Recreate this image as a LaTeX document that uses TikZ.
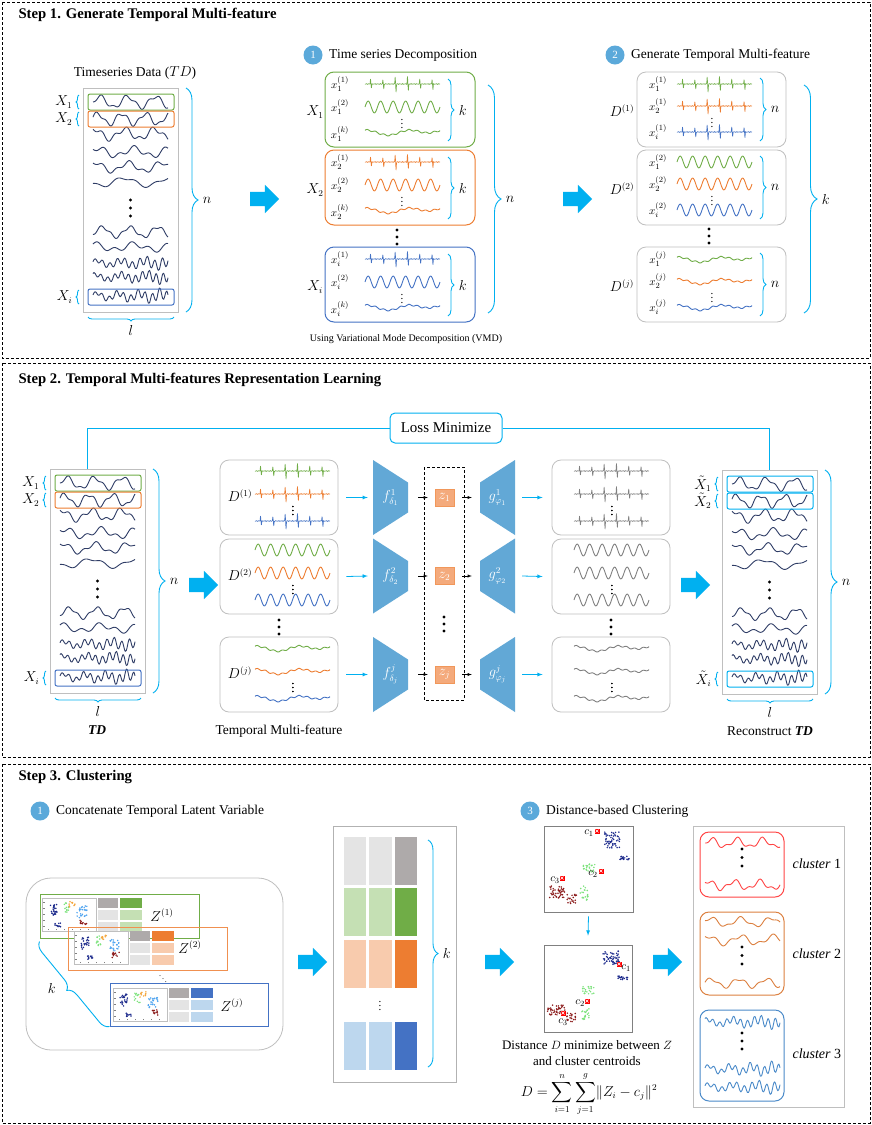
\documentclass[tikz,border=0pt]{standalone}
\usepackage{amsmath}
\usepackage{fontspec}
\setmainfont{Liberation Serif}
\usetikzlibrary{positioning,shapes.arrows,decorations.pathreplacing}

\definecolor{skyc}{HTML}{00B0F0}
\definecolor{grn}{HTML}{70AD47}
\definecolor{org}{HTML}{ED7D31}
\definecolor{blu}{HTML}{4472C4}
\definecolor{lgrn}{HTML}{C5E0B4}
\definecolor{lorg}{HTML}{F8CBAD}
\definecolor{lblu}{HTML}{BDD7EE}
\definecolor{gray1}{HTML}{AEAAAA}
\definecolor{gray2}{HTML}{E4E4E4}
\definecolor{navy}{HTML}{2F3D66}
\definecolor{boxg}{HTML}{BFBFBF}
\definecolor{codec}{HTML}{62A8D6}
\definecolor{zfill}{HTML}{F4AA7C}
\definecolor{badgec}{HTML}{5BA9DA}
\definecolor{dnavy}{HTML}{1C2A8C}
\definecolor{dred}{HTML}{8B1A1A}
\definecolor{lgreen}{HTML}{7BE37B}
\definecolor{sblue}{HTML}{4DA3F0}
\definecolor{sorg}{HTML}{F5A63C}
\definecolor{cred}{HTML}{FF4545}
\definecolor{corg}{HTML}{DC8040}
\definecolor{cblu}{HTML}{4A8AC9}

% one signal of 75pt, #3 is y in terms of \x
\newcommand{\sig}[3][]{\draw[wv,shift={(#2)},#1] plot (\x,{#3});}
\newcommand{\bigdots}[3]{\foreach \dd in {0,1,2} \fill (#1,#2+\dd*#3) circle (1.7);}
\newcommand{\blob}[6]{\foreach \nn in {1,...,#6} \fill[#1] ({#2+rand*#4},{#3+rand*#5}) circle (0.85);}
\newcommand{\cmark}[2]{\fill[red] (#1-2.5,#2-2.5) rectangle (#1+2.5,#2+2.5);
  \draw[white,line width=0.4pt] (#1-1.5,#2-1.5) -- (#1+1.5,#2+1.5) (#1-1.5,#2+1.5) -- (#1+1.5,#2-1.5);}

\def\imfA{0.5*sin(\x*170)*sin(\x*41)+6*(abs(mod(\x,12.3)-6)<0.9)*sin((mod(\x,12.3)-6)*200)*(1+0.35*sin(\x*37))}
\def\imfB{-6*sin(\x*28.8)}
\def\imfC{-2*sin(\x*9+60)-0.8*sin(\x*43)+1.2*sin(\x*4)}
\def\tdrows{14/-5.5*sin(\x*13)+2*sin(\x*31),31/-5.5*sin(\x*15+20)-2*sin(\x*34),46/-5*sin(\x*12+70)+2.5*sin(\x*29),64/-4*sin(\x*10+40)+2.5*sin(\x*24),79/-4.5*sin(\x*11+60)+2*sin(\x*27),94/4*sin(\x*8+20)-1.5*sin(\x*19),144/-5*sin(\x*13-30)+1.5*sin(\x*35),159/-3*sin(\x*9+80)-2.5*sin(\x*21),175/-(1+\x*0.025)*2*sin(\x*48)-2.5*sin(\x*15+30),189/-(1+\x*0.025)*2*sin(\x*52+40)-2.5*sin(\x*14+60),208/-(1+\x*0.03)*1.8*sin(\x*50)-3*sin(\x*17+20)}

% box of raw series: name, origin, 3 frame colours, label letter
\newcommand{\tdblock}[6]{%
\begin{scope}[shift={(#2)}]
\node[draw=boxg,line width=0.8pt,anchor=north west,minimum width=95pt,minimum height=224pt,inner sep=0pt] (#1) at (0,0) {};
\foreach \yy/\ex in \tdrows {\sig[navy]{10,\yy}{\ex}}
\bigdots{47.5}{112}{8}
\node[frm,draw=#3] (#1-1) at (48,14) {};
\node[frm,draw=#4] (#1-2) at (48,31) {};
\node[frm,draw=#5] (#1-i) at (48,209) {};
\foreach \yy/\lb in {14/1,31/2,209/i}
  \draw[brc=3] (-4,\yy+7) -- (-4,\yy-7) node[midway,left=3pt]{$#6_\lb$};
\draw[brc=12] (103,0) -- (103,224) node[midway,right=13pt]{$n$};
\draw[brc=4] (91,229) -- (5,229) node[midway,below=5pt]{$l$};
\end{scope}}

\newcommand{\coder}[4]{%
\fill[codec,shift={(#2)},xscale=#4] (-17.5,-37.5) -- (17.5,-15) -- (17.5,15) -- (-17.5,37.5) -- cycle;
\node[minimum width=35pt,minimum height=75pt,inner sep=0pt,text=white] (#1) at (#2) {#3};}

\newcommand{\zcard}[3]{%
\begin{scope}[shift={(#1)}]
\draw[boxg,fill=white,line width=0.4pt] (0,0) rectangle (54,33);
\foreach \tk in {4,10,...,28} \draw[gray,line width=0.2pt] (1,\tk) -- (2.5,\tk);
\foreach \tk in {6,14,...,46} \draw[gray,line width=0.2pt] (\tk,32) -- (\tk,30.5);
\blob{dnavy}{11}{12}{4}{6}{26}\blob{dnavy}{16}{27}{3}{2}{10}
\blob{lgreen}{24}{10}{3}{5}{12}\blob{sblue}{40}{14}{5}{6}{24}
\blob{dred}{42}{24}{4}{3}{12}\blob{sorg}{30}{6}{3}{3}{10}
\fill[gray1] (56,0) rectangle (76,10); \fill[#2] (78,0) rectangle (100,10);
\fill[gray2] (56,12) rectangle (76,22); \fill[#3] (78,12) rectangle (100,22);
\fill[gray2] (56,24) rectangle (76,34); \fill[#3] (78,24) rectangle (100,34);
\end{scope}}

\begin{document}
\begin{tikzpicture}[x=1pt,y=-1pt,font=\fontsize{13.5}{15}\selectfont,
  wv/.style={line width=0.9pt,domain=0:75,samples=70,smooth,line join=round},
  spk/.style={samples=300,sharp plot,line width=0.6pt},
  brc/.style={draw=skyc,line width=0.9pt,decorate,decoration={brace,amplitude=#1}},brc/.default=6,
  frm/.style={draw,rounded corners=2pt,line width=1pt,minimum width=86pt,minimum height=16pt,inner sep=0pt},
  rbox/.style={draw,rounded corners=9pt,line width=1pt,inner sep=0pt},
  gbox/.style={rbox,draw=boxg,line width=0.8pt},
  bigarr/.style={single arrow,fill=skyc,minimum height=29pt,minimum width=28pt,single arrow head extend=7pt,inner sep=7pt},
  badge/.style={circle,fill=badgec,text=white,minimum size=19pt,inner sep=0pt,font=\fontsize{11}{12}\selectfont},
  cyarr/.style={-latex,draw=skyc,line width=0.8pt},
  lbl/.style={font=\fontsize{11}{12}\selectfont,inner sep=1pt},
  sect/.style={draw,dash pattern=on 3pt off 2pt,line width=0.7pt},
  ttl/.style={anchor=west,font=\bfseries\fontsize{14.7}{17}\selectfont}]
\fill[white] (0,0) rectangle (872,1125);
\useasboundingbox (0,0) rectangle (872,1125);
\pgfmathsetseed{11}

\draw[sect] (2,2) rectangle (870,358);
\draw[sect] (2,363) rectangle (870,757);
\draw[sect] (2,764) rectangle (870,1123);
\node[ttl] at (15,15) {Step 1. Generate Temporal Multi-feature};
\node[ttl] at (15,380) {Step 2. Temporal Multi-features Representation Learning};
\node[ttl] at (15,777) {Step 3. Clustering};

% ---- step 1
\node at (135,73) {Timeseries Data ($TD$)};
\tdblock{td1}{83,88}{grn}{org}{blu}{X}
\node[bigarr] (ar1) at (261,199) {};

\node[badge] (b1) at (313,55) {1};
\node[right=3pt of b1] {Time series Decomposition};
\foreach \nm/\yy/\cc/\sx in {x1/72/grn/1,x2/150/org/2,xi/247/blu/i}{
  \node[rbox,draw=\cc,minimum width=150pt,minimum height=75pt] (\nm) at (400,\yy+37.5) {};
  \node at (315,\yy+40) {$X_\sx$};
  \node[lbl] at (340,\yy+12) {$x_\sx^{(1)}$};
  \node[lbl] at (340,\yy+35) {$x_\sx^{(2)}$};
  \node[lbl] at (340,\yy+62) {$x_\sx^{(k)}$};
  \node[lbl] at (402,\yy+49) {$\vdots$};
  \sig[\cc,spk]{365,\yy+12}{\imfA}
  \sig[\cc]{365,\yy+35}{\imfB}
  \sig[\cc]{365,\yy+60}{\imfC}
  \draw[brc=6] (448,\yy+7) -- (448,\yy+69) node[midway,right=7pt]{$k$};
}
\bigdots{397}{230}{7}
\draw[brc=13] (488,85) -- (488,313) node[midway,right=14pt]{$n$};
\node[font=\fontsize{10}{12}\selectfont] at (406,339) {Using Variational Mode Decomposition (VMD)};
\node[bigarr] (ar2) at (574,199) {};

\node[badge] (b2) at (615,55) {2};
\node[right=3pt of b2] {Generate Temporal Multi-feature};
\foreach \nm/\yy/\sx/\ex/\st in {d1/72/1/\imfA/spk,d2/150/2/\imfB/wv,dj/247/j/\imfC/wv}{
  \node[gbox,minimum width=149pt,minimum height=75pt] (\nm) at (711.5,\yy+37.5) {};
  \node at (622,\yy+39) {$D^{(\sx)}$};
  \foreach \rr/\rc/\rs in {12/grn/1,34/org/2,60/blu/i}{
    \node[lbl] at (658,\yy+\rr) {$x_\rs^{(\sx)}$};
    \sig[\rc,\st]{677,\yy+\rr}{\ex}
  }
  \node[lbl] at (712,\yy+48) {$\vdots$};
  \draw[brc=6] (760,\yy+6) -- (760,\yy+69) node[midway,right=7pt]{$n$};
}
\bigdots{709}{229}{7}
\draw[brc=13] (804,85) -- (804,313) node[midway,right=14pt]{$k$};

% ---- step 2
\tdblock{td2}{50,469}{grn}{org}{blu}{X}
\node[font=\fontsize{13.5}{15}\selectfont\bfseries\itshape] at (97,730) {TD};
\node[bigarr] (ar3) at (200,585) {};
\foreach \nm/\yy/\sx/\ex/\st in {m1/460/1/\imfA/spk,m2/539/2/\imfB/wv,mj/637/j/\imfC/wv}{
  \node[gbox,minimum width=118pt,minimum height=75pt] (\nm) at (279,\yy+37.5) {};
  \node at (240,\yy+36) {$D^{(\sx)}$};
  \foreach \rr/\rc in {11/grn,34/org,61/blu} \sig[\rc,\st]{255,\yy+\rr}{\ex}
  \node[lbl] at (293,\yy+48) {$\vdots$};
}
\bigdots{279}{620}{7}
\node at (279,731) {Temporal Multi-feature};

\coder{f1}{390.5,497.5}{$f^{1}_{\delta_1}$}{1}
\coder{f2}{390.5,576}{$f^{2}_{\delta_2}$}{1}
\coder{fj}{390.5,674.5}{$f^{j}_{\delta_j}$}{1}
\draw[dash pattern=on 3pt off 2pt,line width=0.7pt] (424,467) rectangle (464,700);
\foreach \i/\yy in {1/497.5,2/576,j/674.5}
  \node[fill=zfill,draw=org!80,line width=0.4pt,minimum width=19pt,minimum height=17pt,inner sep=0pt,text=white] (lat\i) at (444.5,\yy) {$z_\i$};
\coder{g1}{497.5,497.5}{$g^{1}_{\varphi_1}$}{-1}
\coder{g2}{497.5,576}{$g^{2}_{\varphi_2}$}{-1}
\coder{gj}{497.5,674.5}{$g^{j}_{\varphi_j}$}{-1}
\bigdots{444}{617}{7}
\foreach \nm/\yy/\ex/\st in {o1/460/\imfA/spk,o2/539/\imfB/wv,oj/637/\imfC/wv}{
  \node[gbox,minimum width=118pt,minimum height=75pt] (\nm) at (611,\yy+37.5) {};
  \foreach \rr in {11,34,61} \sig[gray,\st]{574,\yy+\rr}{\ex}
  \node[lbl] at (612,\yy+48) {$\vdots$};
}
\bigdots{611}{620}{7}
\foreach \i in {1,2,j}{
  \draw[cyarr] ([xshift=8pt]m\i.east) -- ([xshift=-5pt]f\i.west);
  \draw[-latex,line width=0.5pt] ([xshift=10pt]f\i.east) -- ([xshift=-7pt]lat\i.west);
  \draw[-latex,line width=0.5pt] ([xshift=8pt]lat\i.east) -- ([xshift=-8pt]g\i.west);
  \draw[cyarr] ([xshift=7pt]g\i.east) -- ([xshift=-9pt]o\i.west);
}
\node[bigarr] (ar4) at (692,585) {};
\tdblock{rec}{722,470}{skyc}{skyc}{skyc}{\tilde X}
\node at (770,731) {Reconstruct \textbf{\textit{TD}}};
\node[draw=skyc,line width=1pt,rounded corners=5pt,minimum width=112pt,minimum height=30pt,fill=white,font=\fontsize{15}{17}\selectfont] (loss) at (446,428) {Loss Minimize};
\draw[skyc,line width=1pt] ([xshift=-10pt]td2.north) |- (loss.west);
\draw[skyc,line width=1pt] (loss.east) -| (rec.north);

% ---- step 3
\node[badge] (b3) at (40,811) {1};
\node[right=3pt of b3] {Concatenate Temporal Latent Variable};
\node[gbox,rounded corners=25pt,minimum width=257pt,minimum height=172pt] (zall) at (154.5,964) {};
\zcard{42,898}{grn}{lgrn}
\node[draw=grn,line width=1pt,minimum width=159pt,minimum height=44pt,inner sep=0pt] (zc1) at (119.5,916) {};
\node at (162,915) {$Z^{(1)}$};
\zcard{74,931}{org}{lorg}
\node[draw=org!85,line width=1pt,minimum width=159pt,minimum height=43pt,inner sep=0pt] (zc2) at (147.5,948.5) {};
\node at (190,947) {$Z^{(2)}$};
\node[font=\fontsize{8}{9}\selectfont] at (163,976) {$\ddots$};
\zcard{113,988}{blu}{lblu}
\node[draw=blu,line width=1pt,minimum width=158pt,minimum height=43pt,inner sep=0pt] (zcj) at (189,1004.5) {};
\node at (232,1005) {$Z^{(j)}$};
\draw[brc=10] (zcj.south west) -- ([yshift=-3pt]zc1.south west) node[midway,left=15pt,yshift=-4pt]{$k$};
\node[bigarr] (ar5) at (309,962) {};

\node[draw=boxg!80!gray,line width=0.8pt,minimum width=123pt,minimum height=256pt] (cat) at (394.5,954) {};
\foreach \rr/\lc/\dc in {837/gray2/gray1,888/lgrn/grn,940/lorg/org,1022/lblu/blu}{
  \fill[\lc] (344,\rr) rectangle (366,\rr+48);
  \fill[\lc] (369,\rr) rectangle (392,\rr+48);
  \fill[\dc] (395,\rr) rectangle (417,\rr+48);
}
\node[lbl] at (380,1003) {$\vdots$};
\draw[brc=10] (428,840) -- (428,1067) node[midway,right=11pt]{$k$};
\node[bigarr] (ar6) at (496,962) {};

\node[badge] (b4) at (530,811) {3};
\node[right=3pt of b4] {Distance-based Clustering};
\node[draw=gray,line width=0.7pt,minimum width=89pt,minimum height=86pt] (sp1) at (588.5,869) {};
\blob{dnavy}{612}{840}{8}{8}{55}\blob{dnavy}{624}{858}{5}{2}{18}
\blob{lgreen}{589}{868}{6}{4}{24}\blob{lgreen}{584}{893}{4}{7}{20}
\blob{dred}{557}{892}{8}{6}{45}\blob{dred}{572}{899}{5}{5}{20}
\cmark{597}{831}\node[lbl] at (589,833) {$c_1$};
\cmark{601}{871}\node[lbl] at (593,874) {$c_2$};
\cmark{562}{878}\node[lbl] at (555,880) {$c_3$};
\node[draw=gray,line width=0.7pt,minimum width=88pt,minimum height=87pt] (sp2) at (588,988.5) {};
\blob{dnavy}{611}{958}{8}{7}{55}\blob{dnavy}{623}{978}{5}{2}{18}
\blob{lgreen}{588}{990}{6}{4}{22}\blob{lgreen}{585}{1014}{4}{7}{20}
\blob{dred}{556}{1010}{9}{5}{45}\blob{dred}{571}{1018}{5}{5}{20}
\cmark{619}{964}\node[lbl] at (626,968) {$c_1$};
\cmark{587}{1001}\node[lbl] at (580,1003) {$c_2$};
\cmark{563}{1013}\node[lbl] at (563,1022) {$c_3$};
\draw[cyarr] ([yshift=-4pt]sp1.south) -- ([yshift=9pt]sp2.north);
\node[align=center,font=\fontsize{13}{16}\selectfont] at (587,1053) {Distance $D$ minimize between $Z$\\and cluster centroids};
\node at (589,1094) {$D=\displaystyle\sum_{i=1}^{n}\sum_{j=1}^{g}\lVert Z_i-c_j\rVert^2$};
\node[bigarr] (ar7) at (664,962) {};

\node[draw=boxg,line width=0.8pt,minimum width=151pt,minimum height=281pt] (clu) at (768.5,966.5) {};
\node[rbox,draw=cred,minimum width=84pt,minimum height=65pt] (cl1) at (742,864.5) {};
\sig[cred]{705,843}{-4*sin(\x*14)+2*sin(\x*30)}
\sig[cred]{705,885}{-4*sin(\x*14+40)+2*sin(\x*31)}
\bigdots{742}{849}{8.5}
\node[rbox,draw=corg,minimum width=84pt,minimum height=83pt] (cl2) at (742,953.5) {};
\sig[corg]{705,922}{-4*sin(\x*12+20)+1.5*sin(\x*28)}
\sig[corg]{705,940}{-4*sin(\x*11+60)+2*sin(\x*25)}
\sig[corg]{705,983}{-4*sin(\x*13+10)-1.5*sin(\x*29)}
\bigdots{742}{947}{8.5}
\node[rbox,draw=cblu,minimum width=84pt,minimum height=91pt] (cl3) at (742,1055.5) {};
\sig[cblu]{705,1022}{-(1+\x*0.025)*2*sin(\x*52+40)-2.5*sin(\x*14+60)}
\sig[cblu]{705,1069}{-(1+\x*0.03)*1.8*sin(\x*50)-3*sin(\x*17+20)}
\sig[cblu]{705,1087}{-(1+\x*0.025)*2*sin(\x*48)-2.5*sin(\x*15+30)}
\bigdots{742}{1033}{8}
\node[anchor=west,font=\fontsize{14}{16}\selectfont] at (789,864) {\textit{cluster} 1};
\node[anchor=west,font=\fontsize{14}{16}\selectfont] at (789,954) {\textit{cluster} 2};
\node[anchor=west,font=\fontsize{14}{16}\selectfont] at (789,1054) {\textit{cluster} 3};
\end{tikzpicture}
\end{document}
